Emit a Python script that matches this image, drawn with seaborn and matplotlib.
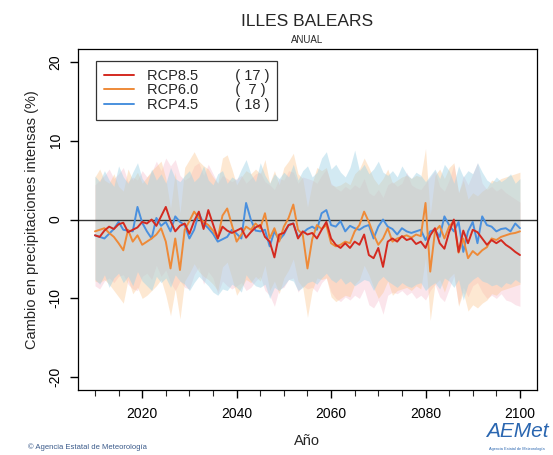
import numpy as np
import pandas as pd
import matplotlib
matplotlib.use("Agg")
import matplotlib.pyplot as plt
import seaborn as sns

years = list(range(2010, 2101))

rcp85 = [-2.0, -2.2, -1.4, -0.9, -1.2, -0.6, -0.4, -1.6, -1.3, -1.0,
         -0.3, -0.5, 0.0, -0.8, 0.4, 1.6, -0.2, -1.5, -0.8, -0.5,
         -1.8, -0.2, 1.0, -1.2, 1.2, -0.6, -2.4, -0.9, -1.4, -1.7,
         -1.4, -1.1, -2.3, -1.6, -1.0, -0.7, -2.2, -2.8, -4.8, -1.9,
         -1.7, -0.7, -0.5, -2.4, -1.5, -1.9, -1.7, -2.4, -1.3, -0.3,
         -2.4, -3.2, -3.6, -3.0, -3.6, -2.8, -3.2, -1.9, -4.5, -4.9,
         -3.6, -6.0, -2.8, -2.4, -2.8, -2.1, -2.6, -2.4, -3.1, -2.8,
         -3.6, -2.0, -1.1, -3.0, -3.7, -1.6, 0.0, -4.1, -1.4, -3.0,
         -1.3, -1.6, -2.4, -3.2, -2.6, -3.0, -2.6, -3.2, -3.6, -4.1, -4.5]
rcp60 = [-1.5, -1.3, -1.1, -1.7, -2.2, -3.0, -3.9, -1.3, -2.8, -2.0,
         -3.2, -2.8, -2.4, -1.9, -1.1, -2.8, -6.2, -2.4, -6.4, -1.3,
         -0.2, 1.0, 0.2, -0.3, -0.7, -1.4, -2.4, 0.5, 1.4, -0.7,
         -2.8, -1.9, -0.9, -1.3, -0.5, -1.1, 0.8, -2.4, -1.1, -2.8,
         -0.9, 0.2, 1.9, -1.3, -1.9, -6.2, -2.5, -0.7, -1.2, -0.7,
         -3.0, -3.4, -3.2, -2.8, -3.0, -1.5, -0.7, 1.0, -0.3, -1.9,
         -3.2, -2.4, -1.1, -2.8, -2.4, -2.2, -2.0, -2.3, -1.9, -2.1,
         2.1, -6.6, -1.5, -0.8, -2.4, -0.9, -0.2, -4.2, -2.4, -4.9,
         -4.0, -4.5, -3.9, -3.5, -2.4, -2.6, -2.2, -2.0, -1.8, -1.7, -1.5]
rcp45 = [-2.0, -2.2, -2.4, -1.8, -1.2, -0.3, -1.3, -1.4, -1.5, 1.6,
         -0.4, -1.5, -2.4, 0.2, -0.8, -0.3, -1.5, 0.4, -0.3, -0.7,
         -2.4, -1.3, 0.8, -0.5, -1.1, -1.8, -2.8, -2.5, -2.2, -1.3,
         -1.8, -2.4, 2.1, 0.0, -1.4, -1.5, -1.3, -3.4, -1.5, -2.6,
         -1.9, -0.7, -0.5, -2.2, -1.7, -1.2, -0.9, -1.3, 0.8, 1.2,
         -0.7, -0.9, -0.2, -1.5, -0.8, -1.1, -1.3, -0.9, -0.7, -2.4,
         -0.9, 0.0, -0.9, -1.2, -1.9, -1.1, -1.5, -1.7, -1.5, -1.3,
         -2.6, -1.5, -1.3, -2.2, 0.4, -0.7, -1.5, -0.3, -4.1, -1.5,
         -0.3, -3.0, 0.4, -0.7, -0.9, -1.5, -1.2, -1.1, -1.5, -0.5, -1.1]

rcp45_hi = [5.5, 4.8, 6.2, 5.0, 4.2, 6.8, 5.4, 4.6, 6.0, 7.2,
            5.2, 4.4, 6.4, 5.0, 5.8, 4.6, 6.6, 5.2, 4.8, 5.6,
            6.2, 4.8, 5.4, 6.8, 5.0, 4.4, 5.8, 6.2, 4.6, 5.4,
            5.0, 6.4, 7.6, 5.8, 4.8, 7.2, 5.6, 4.6, 5.8, 5.2,
            6.0, 5.4, 7.0, 5.0, 6.2, 6.8, 5.4, 6.0, 7.8, 8.6,
            6.4, 7.0, 6.0, 5.4, 6.6, 8.8, 6.2, 7.0, 5.8, 6.4,
            7.4, 6.0, 5.6, 6.2, 5.4, 6.8, 5.8, 5.2, 6.0, 5.6,
            4.8, 5.6, 6.4, 5.2, 7.0, 6.2, 4.6, 6.8, 5.4, 6.2,
            5.8, 7.2, 6.0, 5.0, 4.6, 5.4, 4.8, 5.2, 5.8, 4.6, 5.2]
rcp45_lo = [-7.6, -8.2, -7.0, -8.6, -7.4, -6.8, -8.0, -7.2, -8.4, -6.6,
            -7.8, -8.4, -9.0, -7.2, -8.0, -7.4, -8.6, -7.0, -7.8, -8.2,
            -9.0, -8.0, -7.2, -7.8, -8.4, -9.2, -9.6, -8.8, -9.0, -8.2,
            -8.6, -9.2, -7.0, -7.8, -8.4, -8.6, -8.2, -10.0, -8.6, -9.0,
            -8.4, -7.6, -7.8, -9.0, -8.6, -8.0, -7.8, -8.2, -7.4, -6.8,
            -7.6, -8.0, -7.4, -8.2, -7.8, -8.4, -8.0, -7.6, -7.8, -9.0,
            -7.8, -7.2, -7.8, -8.2, -8.6, -8.0, -8.4, -8.6, -8.2, -8.0,
            -9.0, -8.4, -8.0, -8.8, -7.4, -7.8, -8.6, -7.6, -10.2, -8.2,
            -7.6, -7.2, -7.8, -8.0, -8.4, -8.2, -8.6, -8.0, -8.2, -7.6, -8.0]
rcp85_hi = [4.4, 5.0, 5.6, 6.4, 5.2, 5.8, 6.6, 4.8, 5.4, 5.0,
            6.2, 5.4, 6.0, 7.4, 6.2, 7.8, 6.8, 7.6, 5.6, 5.0,
            5.4, 6.8, 7.2, 5.6, 7.0, 5.8, 4.6, 5.6, 5.2, 4.8,
            5.2, 5.6, 4.6, 5.2, 5.8, 6.0, 4.8, 4.4, 3.8, 5.2,
            5.0, 6.2, 6.0, 4.6, 5.4, 5.2, 5.0, 4.6, 5.6, 6.4,
            4.6, 4.0, 3.6, 4.2, 3.8, 4.4, 4.0, 5.2, 3.4, 3.0,
            3.8, 2.8, 4.4, 4.8, 4.2, 4.6, 6.0, 4.4, 4.0, 3.8,
            4.6, 5.4, 6.2, 4.2, 3.6, 5.0, 7.0, 3.4, 5.6, 4.4,
            5.8, 7.2, 4.6, 3.8, 4.2, 3.6, 4.0, 3.4, 3.0, 2.6, 2.2]
rcp85_lo = [-8.4, -8.8, -7.8, -7.4, -8.0, -7.2, -7.0, -8.2, -8.8, -9.0,
            -7.2, -6.8, -7.6, -5.8, -7.2, -6.4, -8.0, -9.0, -7.8, -8.6,
            -8.8, -7.0, -6.0, -8.2, -6.6, -7.4, -9.4, -7.8, -8.4, -8.8,
            -8.4, -8.0, -9.0, -8.6, -7.8, -7.2, -9.0, -9.6, -11.0, -8.8,
            -8.6, -7.6, -7.4, -9.2, -8.4, -8.8, -8.6, -9.2, -8.0, -7.4,
            -9.2, -10.0, -10.4, -9.8, -10.2, -9.6, -10.0, -8.8, -10.8, -11.2,
            -10.2, -12.0, -9.6, -9.2, -9.4, -9.0, -9.6, -9.2, -10.0, -9.6,
            -10.2, -9.0, -8.2, -9.8, -10.4, -8.8, -7.2, -10.8, -8.6, -9.8,
            -8.4, -8.0, -9.2, -10.0, -9.6, -10.0, -9.4, -10.2, -10.4, -10.8, -11.0]
rcp60_hi = [5.4, 6.4, 5.0, 4.6, 5.8, 4.2, 3.6, 6.4, 5.0, 6.0,
            4.6, 5.4, 6.2, 6.8, 7.4, 5.2, 1.4, 6.0, 0.8, 6.6,
            7.6, 8.6, 7.4, 6.8, 6.4, 5.4, 4.6, 7.8, 8.2, 6.4,
            4.4, 5.4, 6.2, 5.8, 6.4, 5.8, 7.6, 4.6, 6.2, 4.4,
            6.6, 7.4, 8.4, 5.8, 5.2, 1.6, 4.6, 6.6, 6.2, 6.6,
            4.4, 4.2, 4.4, 4.8, 4.4, 5.8, 6.4, 7.8, 6.6, 5.2,
            4.4, 5.2, 6.4, 4.6, 5.0, 5.4, 5.6, 5.2, 5.6, 5.4,
            9.0, 0.6, 5.6, 6.4, 5.2, 6.6, 7.2, 3.4, 5.0, 2.6,
            3.4, 3.0, 3.6, 4.0, 5.0, 4.8, 5.2, 5.4, 5.6, 5.8, 6.0]
rcp60_lo = [-7.8, -8.0, -7.6, -8.2, -9.0, -9.8, -10.6, -7.6, -9.4, -8.6,
            -10.0, -9.6, -9.0, -8.4, -7.6, -9.6, -12.2, -8.8, -12.6, -7.8,
            -6.8, -5.6, -6.6, -7.2, -7.6, -8.2, -9.0, -6.0, -5.4, -7.4,
            -9.6, -8.6, -7.6, -8.0, -7.2, -7.8, -5.8, -9.0, -7.8, -9.4,
            -7.4, -6.4, -5.0, -7.8, -8.6, -12.4, -9.0, -7.4, -7.6, -7.4,
            -9.8, -10.4, -10.0, -9.6, -9.8, -8.2, -7.6, -5.8, -7.0, -8.6,
            -10.0, -9.2, -7.8, -9.6, -9.0, -8.8, -8.6, -9.0, -8.4, -8.8,
            -4.8, -12.8, -8.2, -7.6, -9.2, -7.4, -6.8, -11.0, -9.2, -11.6,
            -10.8, -11.2, -10.6, -10.2, -9.4, -9.6, -9.0, -8.8, -8.6, -8.4, -8.2]

scenarios = ["RCP8.5", "RCP6.0", "RCP4.5"]
counts = ["( 17 )", "(  7 )", "( 18 )"]
x_ticks = [2020, 2040, 2060, 2080, 2100]
y_ticks = [20, 10, 0, -10, -20]

line_colors = {"RCP8.5": "#d42a20", "RCP6.0": "#ee8a38", "RCP4.5": "#4a90de"}
band_colors = {"RCP8.5": "#f3aac0", "RCP6.0": "#fcc690", "RCP4.5": "#9fd2e6"}
band_alpha = {"RCP8.5": 0.30, "RCP6.0": 0.40, "RCP4.5": 0.45}

df = pd.DataFrame({
    "year": years * 3,
    "value": rcp85 + rcp60 + rcp45,
    "scenario": ["RCP8.5"] * len(years) + ["RCP6.0"] * len(years) + ["RCP4.5"] * len(years),
})
bands = {"RCP8.5": (rcp85_lo, rcp85_hi), "RCP6.0": (rcp60_lo, rcp60_hi),
         "RCP4.5": (rcp45_lo, rcp45_hi)}

sns.set_style("ticks")
plt.rcParams["font.family"] = ["Liberation Sans", "DejaVu Sans"]

fig = plt.figure(figsize=(5.53, 4.55), dpi=100)
ax = fig.add_axes([0.141, 0.143, 0.830, 0.749])

for s in ["RCP8.5", "RCP6.0", "RCP4.5"]:
    lo, hi = bands[s]
    ax.fill_between(years, lo, hi, color=band_colors[s], alpha=band_alpha[s], lw=0)

ax.axhline(0, color="#333333", lw=1.0, zorder=2)

sns.lineplot(data=df, x="year", y="value", hue="scenario",
             hue_order=["RCP4.5", "RCP6.0", "RCP8.5"], palette=line_colors,
             lw=1.4, ax=ax, legend=False, zorder=3)

ax.set_xlim(2006.4, 2103.6)
ax.set_ylim(-21.6, 21.6)
ax.set_xticks(x_ticks)
ax.set_xticks(list(range(2010, 2101, 5)), minor=True)
ax.set_yticks(y_ticks)
ax.set_yticklabels([str(v) for v in y_ticks], rotation=90, va="center")
ax.tick_params(axis="both", which="major", length=6, width=1, labelsize=10, colors="black")
ax.tick_params(axis="x", which="minor", length=4, width=0.8)
ax.tick_params(axis="x", pad=6)
ax.tick_params(axis="y", pad=5)
for sp in ax.spines.values():
    sp.set_visible(True)
    sp.set_color("black")
    sp.set_linewidth(0.9)

ax.set_xlabel("Año", fontsize=10.5, labelpad=10)
ax.set_ylabel("Cambio en precipitaciones intensas (%)", fontsize=10.5, labelpad=7)

handles = [plt.Line2D([], [], color=line_colors[s], lw=1.4) for s in scenarios]
labels = [f"{s}         {c}" for s, c in zip(scenarios, counts)]
leg = ax.legend(handles, labels, loc="upper left", bbox_to_anchor=(0.04, 0.966),
                frameon=True, fancybox=False, edgecolor="black", fontsize=10.5,
                handlelength=2.0, handletextpad=0.9, borderpad=0.55, labelspacing=0.05,
                borderaxespad=0)
leg.get_frame().set_linewidth(0.9)

fig.text(0.555, 0.953, "ILLES BALEARS", ha="center", va="center", fontsize=12.5)
fig.text(0.555, 0.913, "ANUAL", ha="center", va="center", fontsize=7)
fig.text(0.05, 0.008, "\u00a9 Agencia Estatal de Meteorología", ha="left", va="bottom",
         fontsize=5.5, color="#3a5a8a")
fig.text(0.935, 0.03, "AEMet", ha="center", va="bottom", fontsize=15,
         style="italic", color="#2a66b0")
fig.text(0.935, 0.008, "Agencia Estatal de Meteorología", ha="center", va="bottom",
         fontsize=2.8, color="#2a66b0")

fig.savefig("out.png", dpi=100)
